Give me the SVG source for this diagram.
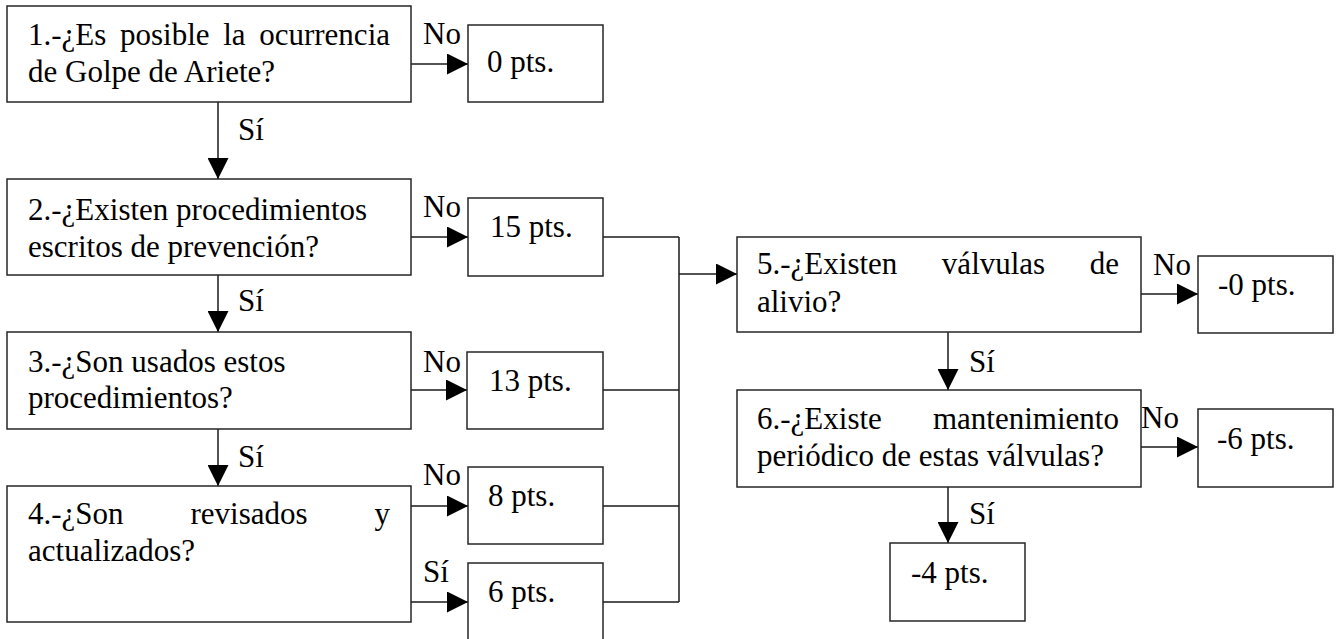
<svg xmlns="http://www.w3.org/2000/svg" width="1337" height="639" viewBox="0 0 1337 639">
  <style>
    .box { fill: #ffffff; stroke: #262626; stroke-width: 1.5; }
    .txt { font-family: 'Liberation Serif', Tinos, 'Times New Roman', 'DejaVu Serif', serif; font-size: 31px; fill: #000000; }
    .wire { fill: none; stroke: #1a1a1a; stroke-width: 1.5; }
    .arrow { fill: none; stroke: #1a1a1a; stroke-width: 1.5; marker-end: url(#head); }
  </style>
  <defs>
    <marker id="head" markerUnits="userSpaceOnUse" markerWidth="21" markerHeight="21" refX="21" refY="10.5" orient="auto">
      <path d="M0,0 L21,10.5 L0,21 Z" fill="#000000"/>
    </marker>
  </defs>
  <rect width="1337" height="639" fill="#ffffff"/>

  <!-- connectors -->
  <g id="connectors" font-family="Liberation Serif, serif">
    <line class="arrow" x1="411" y1="64" x2="468" y2="64"/>
    <line class="arrow" x1="218" y1="102" x2="218" y2="179"/>
    <line class="arrow" x1="411" y1="237" x2="468" y2="237"/>
    <line class="arrow" x1="218" y1="275" x2="218" y2="332"/>
    <line class="arrow" x1="411" y1="390" x2="467" y2="390"/>
    <line class="arrow" x1="218" y1="429" x2="218" y2="486"/>
    <line class="arrow" x1="411" y1="506" x2="468" y2="506"/>
    <line class="arrow" x1="411" y1="602" x2="468" y2="602"/>
    <!-- collector bus -->
    <line class="wire" x1="603" y1="237" x2="679" y2="237"/>
    <line class="wire" x1="603" y1="390" x2="679" y2="390"/>
    <line class="wire" x1="603" y1="506" x2="679" y2="506"/>
    <line class="wire" x1="603" y1="602" x2="679" y2="602"/>
    <line class="wire" x1="679" y1="237" x2="679" y2="602"/>
    <line class="arrow" x1="679" y1="274" x2="737" y2="274"/>
    <!-- right column -->
    <line class="arrow" x1="1141" y1="294" x2="1198" y2="294"/>
    <line class="arrow" x1="948" y1="332" x2="948" y2="390"/>
    <line class="arrow" x1="1141" y1="447" x2="1198" y2="447"/>
    <line class="arrow" x1="948" y1="487" x2="948" y2="543"/>

    <text class="txt" x="423" y="44">No</text>
    <text class="txt" x="238" y="140">Sí</text>
    <text class="txt" x="423" y="217">No</text>
    <text class="txt" x="238" y="311">Sí</text>
    <text class="txt" x="423" y="372">No</text>
    <text class="txt" x="238" y="467">Sí</text>
    <text class="txt" x="423" y="485">No</text>
    <text class="txt" x="423" y="582">Sí</text>
    <text class="txt" x="1153" y="275">No</text>
    <text class="txt" x="969" y="372">Sí</text>
    <text class="txt" x="1141" y="428">No</text>
    <text class="txt" x="969" y="524">Sí</text>
  </g>

  <!-- question nodes -->
  <g id="q1">
    <rect class="box" x="7" y="6" width="404" height="96"/>
    <text class="txt" x="28" y="45" word-spacing="5.9">1.-¿Es posible la ocurrencia</text>
    <text class="txt" x="28" y="82">de Golpe de Ariete?</text>
  </g>
  <g id="q2">
    <rect class="box" x="7" y="179" width="404" height="96"/>
    <text class="txt" x="28" y="220">2.-¿Existen procedimientos</text>
    <text class="txt" x="28" y="257">escritos de prevención?</text>
  </g>
  <g id="q3">
    <rect class="box" x="7" y="332" width="404" height="97"/>
    <text class="txt" x="28" y="372">3.-¿Son usados estos</text>
    <text class="txt" x="28" y="408">procedimientos?</text>
  </g>
  <g id="q4">
    <rect class="box" x="7" y="486" width="404" height="136"/>
    <text class="txt" x="28" y="524" word-spacing="59.2">4.-¿Son revisados y</text>
    <text class="txt" x="28" y="561">actualizados?</text>
  </g>
  <g id="q5">
    <rect class="box" x="737" y="237" width="404" height="95"/>
    <text class="txt" x="757" y="274" word-spacing="36.8">5.-¿Existen válvulas de</text>
    <text class="txt" x="757" y="312">alivio?</text>
  </g>
  <g id="q6">
    <rect class="box" x="737" y="390" width="404" height="97"/>
    <text class="txt" x="757" y="429" word-spacing="43.4">6.-¿Existe mantenimiento</text>
    <text class="txt" x="757" y="466">periódico de estas válvulas?</text>
  </g>

  <!-- score nodes -->
  <g id="s0">
    <rect class="box" x="468" y="25" width="135" height="77"/>
    <text class="txt" x="487" y="72">0 pts.</text>
  </g>
  <g id="s15">
    <rect class="box" x="468" y="198" width="135" height="78"/>
    <text class="txt" x="490" y="237">15 pts.</text>
  </g>
  <g id="s13">
    <rect class="box" x="467" y="352" width="136" height="77"/>
    <text class="txt" x="489" y="391">13 pts.</text>
  </g>
  <g id="s8">
    <rect class="box" x="468" y="467" width="135" height="77"/>
    <text class="txt" x="488" y="506">8 pts.</text>
  </g>
  <g id="s6">
    <rect class="box" x="468" y="563" width="135" height="90"/>
    <text class="txt" x="488" y="602">6 pts.</text>
  </g>
  <g id="sm0">
    <rect class="box" x="1198" y="256" width="135" height="77"/>
    <text class="txt" x="1218" y="295">-0 pts.</text>
  </g>
  <g id="sm6">
    <rect class="box" x="1198" y="409" width="135" height="78"/>
    <text class="txt" x="1217" y="449">-6 pts.</text>
  </g>
  <g id="sm4">
    <rect class="box" x="890" y="543" width="135" height="78"/>
    <text class="txt" x="911" y="583">-4 pts.</text>
  </g>
</svg>
